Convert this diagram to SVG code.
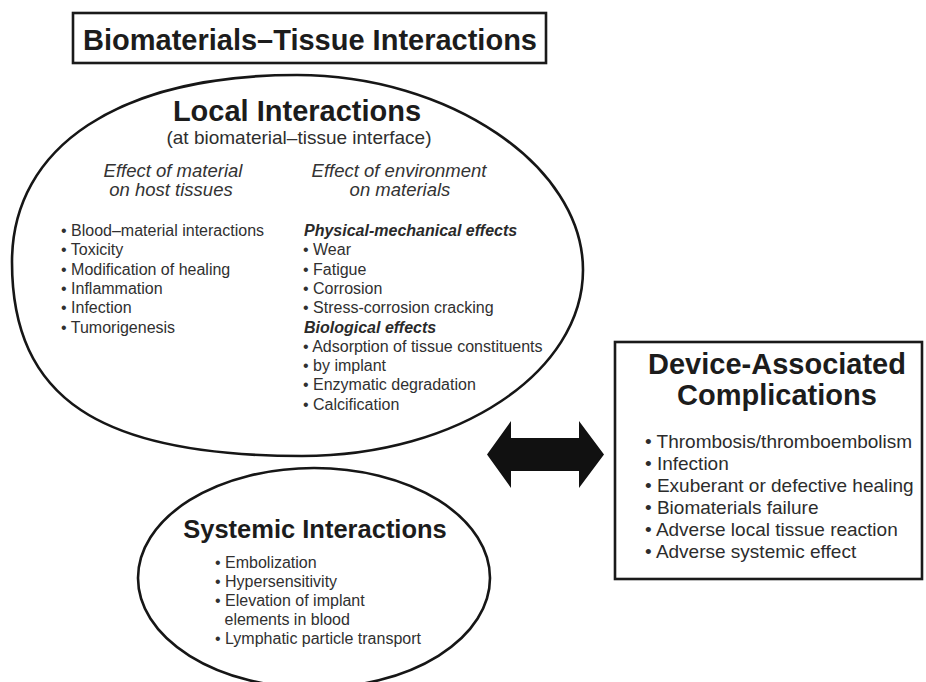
<svg xmlns="http://www.w3.org/2000/svg" width="926" height="682" viewBox="0 0 926 682">
  <style>
    .bg { fill: #ffffff; }
    .outline { fill: none; stroke: #161616; stroke-width: 2.6; }
    .box { fill: #ffffff; stroke: #1a1a1a; stroke-width: 2.6; }
    text { font-family: "Liberation Sans", Arial, Helvetica, sans-serif; }
    .head { font-weight: bold; fill: #1c1c1c; text-anchor: middle; }
    .sub { fill: #2e2e2e; text-anchor: middle; }
    .eff { font-style: italic; fill: #333333; text-anchor: middle; font-size: 18.5px; }
    .item { fill: #303030; font-size: 16px; }
    .cat { font-weight: bold; font-style: italic; fill: #2a2a2a; font-size: 16px; }
    .ditem { fill: #2c2c2c; font-size: 19px; }
    .arrow { fill: #111111; }
  </style>

  <rect class="bg" x="0" y="0" width="926" height="682"/>

  <!-- Title -->
  <g id="title">
    <rect class="box" x="73" y="13" width="473" height="50"/>
    <text class="head" x="310" y="50" font-size="29">Biomaterials–Tissue Interactions</text>
  </g>

  <!-- Local interactions (large oval) -->
  <g id="local">
    <path class="outline" d="M 297,75 C 448,75 583,165 583,270 C 583,372 458,456 302,456 C 99,456 12,398 12,262 C 12,146 120,75 297,75 Z"/>
    <text class="head" x="297" y="121" font-size="29">Local Interactions</text>
    <text class="sub" x="299" y="144" font-size="19">(at biomaterial–tissue interface)</text>

    <text class="eff" x="173" y="177">Effect of material</text>
    <text class="eff" x="171" y="196">on host tissues</text>
    <text class="eff" x="399" y="177">Effect of environment</text>
    <text class="eff" x="400" y="196">on materials</text>

    <text class="item" x="61" y="236">• Blood–material interactions</text>
    <text class="item" x="61" y="255.3">• Toxicity</text>
    <text class="item" x="61" y="274.6">• Modification of healing</text>
    <text class="item" x="61" y="293.9">• Inflammation</text>
    <text class="item" x="61" y="313.2">• Infection</text>
    <text class="item" x="61" y="332.5">• Tumorigenesis</text>

    <text class="cat" x="304" y="236">Physical-mechanical effects</text>
    <text class="item" x="303" y="255.3">• Wear</text>
    <text class="item" x="303" y="274.6">• Fatigue</text>
    <text class="item" x="303" y="293.9">• Corrosion</text>
    <text class="item" x="303" y="313.2">• Stress-corrosion cracking</text>
    <text class="cat" x="304" y="332.5">Biological effects</text>
    <text class="item" x="303" y="351.8">• Adsorption of tissue constituents</text>
    <text class="item" x="303" y="371.1">• by implant</text>
    <text class="item" x="303" y="390.4">• Enzymatic degradation</text>
    <text class="item" x="303" y="409.7">• Calcification</text>
  </g>

  <!-- Systemic interactions (small oval) -->
  <g id="systemic">
    <ellipse class="outline" cx="314" cy="578" rx="176" ry="110"/>
    <text class="head" x="315" y="538" font-size="25.5">Systemic Interactions</text>
    <text class="item" x="215" y="568">• Embolization</text>
    <text class="item" x="215" y="587">• Hypersensitivity</text>
    <text class="item" x="215" y="606">• Elevation of implant</text>
    <text class="item" x="224.5" y="625">elements in blood</text>
    <text class="item" x="215" y="644">• Lymphatic particle transport</text>
  </g>

  <!-- Device-associated complications -->
  <g id="device">
    <rect class="box" x="615" y="342" width="307" height="237"/>
    <text class="head" x="777" y="374" font-size="29">Device-Associated</text>
    <text class="head" x="777" y="405" font-size="29">Complications</text>
    <text class="ditem" x="645" y="448">• Thrombosis/thromboembolism</text>
    <text class="ditem" x="645" y="470">• Infection</text>
    <text class="ditem" x="645" y="492">• Exuberant or defective healing</text>
    <text class="ditem" x="645" y="514">• Biomaterials failure</text>
    <text class="ditem" x="645" y="536">• Adverse local tissue reaction</text>
    <text class="ditem" x="645" y="558">• Adverse systemic effect</text>
  </g>

  <!-- Connectors -->
  <g id="connectors">
    <path class="arrow" d="M 487,454.5 L 511,421 L 511,438 L 579,438 L 579,421 L 604,454.5 L 579,488 L 579,471 L 511,471 L 511,488 Z"/>
  </g>
</svg>
